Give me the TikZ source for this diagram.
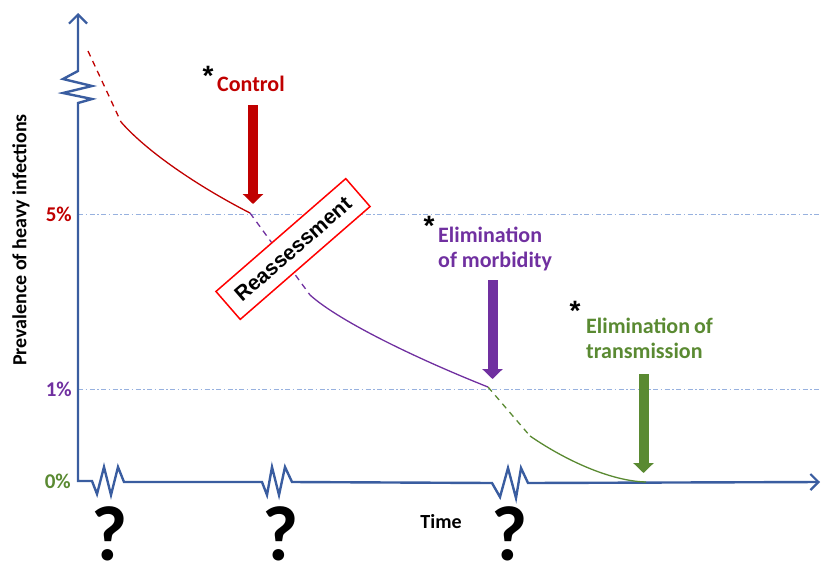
\documentclass[tikz,border=0pt]{standalone}
\usepackage{fontspec}
\setmainfont{Carlito}
\newfontfamily\boxfont{Liberation Sans}
\usetikzlibrary{arrows.meta}

\definecolor{ctrlred}{HTML}{C00000}
\definecolor{morbpurple}{HTML}{7030A0}
\definecolor{transgreen}{HTML}{5A8A32}
\definecolor{axisblue}{HTML}{3A5DA0}
\definecolor{guideblue}{HTML}{97B1DF}

\tikzset{
  axisline/.style={draw=axisblue, line width=2.4pt, line join=miter,
    {Straight Barb[length=9pt,width=18pt,line width=2.2pt]}-{Straight Barb[length=8pt,width=16pt,line width=2.2pt]}},
  guide/.style={draw=guideblue, line width=1pt,
    dash pattern=on 5pt off 2.5pt on 1.5pt off 2.5pt},
  trend/.style={line width=1.3pt},
  trenddash/.style={line width=1.3pt, dash pattern=on 6pt off 5pt},
  marker/.style={line width=10pt, -{Triangle[length=10pt,width=20pt]}},
  lbl/.style={font=\fontsize{22}{25}\selectfont\bfseries, inner sep=0pt},
  pct/.style={font=\fontsize{21}{24}\selectfont\bfseries, inner sep=0pt, anchor=east},
  star/.style={font=\boxfont\fontsize{28}{28}\selectfont\bfseries, inner sep=0pt, anchor=north},
  qmark/.style={font=\fontsize{78}{78}\selectfont\bfseries, inner sep=0pt, anchor=base},
}

\begin{document}
\begin{tikzpicture}[x=1pt,y=-1pt]
\useasboundingbox (0,0) rectangle (821,562);

% reference levels
\coordinate (g5a) at (78,214);  \coordinate (g5b) at (821,214);
\coordinate (g1a) at (78,389);  \coordinate (g1b) at (821,389);
\draw[guide] (g5a) -- (g5b);
\draw[guide] (g1a) -- (g1b);

% axes with break marks
\coordinate (ytip) at (78,13);
\coordinate (origin) at (78,481);
\coordinate (xtip) at (820,482);
\draw[axisline] (ytip) -- (78,71) -- (63,79) -- (92,86) -- (63,93) -- (92,99) -- (78,103)
  -- (origin) -- (92,481) -- (97,494) -- (104,467) -- (111,495) -- (118,467) -- (124,482)
  -- (262,482) -- (267,495) -- (272,467) -- (279,495) -- (285,467) -- (292,482)
  -- (492,483) -- (500,497) -- (508,468) -- (516,498) -- (521,468) -- (528,483)
  -- (xtip);

% trend curves
\coordinate (r0) at (88,51);
\coordinate (r1) at (121,122);
\coordinate (p0) at (250,213);
\coordinate (p1) at (310,295);
\coordinate (q0) at (488,387);
\coordinate (q1) at (530,436);
\coordinate (e0) at (646,482);

\draw[trenddash, ctrlred] (r0) -- (r1);
\draw[trend, ctrlred] (r1) .. controls (150,155) and (205,190) .. (p0);
\draw[trenddash, morbpurple] (p0) -- (p1);
\draw[trend, morbpurple] (p1) .. controls (340,322) and (420,360) .. (q0);
\draw[trenddash, transgreen] (q0) -- (q1);
\draw[trend, transgreen] (q1) .. controls (565,460) and (610,481) .. (e0);

% reassessment tag
\node[draw=red, fill=white, line width=1.5pt, rotate=41,
      minimum width=172pt, minimum height=37pt, inner sep=0pt,
      font=\boxfont\fontsize{21}{21}\selectfont\bfseries] (reass) at (293,249) {Reassessment};

% milestone arrows
\coordinate (a1s) at (253,105); \coordinate (a1e) at (253,204);
\coordinate (a2s) at (492.5,280); \coordinate (a2e) at (492.5,379);
\coordinate (a3s) at (643.5,374); \coordinate (a3e) at (643.5,473);
\draw[marker, ctrlred] (a1s) -- (a1e);
\draw[marker, morbpurple] (a2s) -- (a2e);
\draw[marker, transgreen] (a3s) -- (a3e);

% milestone labels
\node[star] (s1) at (208,66) {*};
\node[lbl, text=ctrlred, anchor=base west] (t1) at (217,91) {Control};
\node[star] (s2) at (429,216) {*};
\node[lbl, text=morbpurple, anchor=base west] (t2a) at (438,242) {Elimination};
\node[lbl, text=morbpurple, anchor=base west] (t2b) at (438,267) {of morbidity};
\node[star] (s3) at (575,301) {*};
\node[lbl, text=transgreen, anchor=base west] (t3a) at (586,333) {Elimination\kern-1pt\ of};
\node[lbl, text=transgreen, anchor=base west] (t3b) at (586,358) {transmission};

% axis labels
\node[pct, text=ctrlred] (l5) at (72,214) {5\%};
\node[pct, text=morbpurple] (l1) at (72,389) {1\%};
\node[pct, text=transgreen] (l0) at (71,481) {0\%};
\node[font=\fontsize{20}{20}\selectfont\bfseries, rotate=90, inner sep=0pt] (ylab) at (21,240)
  {Prevalence of heavy infections};
\node[font=\fontsize{20}{20}\selectfont\bfseries, inner sep=0pt] (xlab) at (441,522) {Time};

% unknown durations
\node[qmark] (u1) at (110,560) {?};
\node[qmark] (u2) at (281,560) {?};
\node[qmark] (u3) at (510,560) {?};
\end{tikzpicture}
\end{document}
